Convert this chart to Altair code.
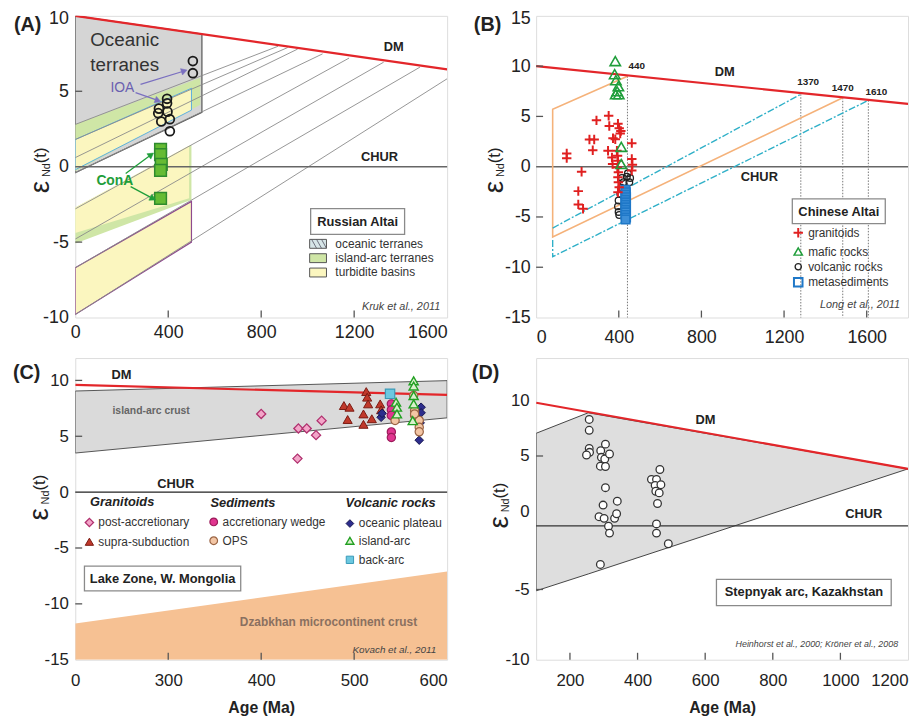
import math
import altair as alt
import pandas as pd

FONT = "Liberation Sans"
W, H = 376, 305
RED = "#e3262a"

# ---------------- Panel A : Russian Altai ----------------
A_DM_AGE = [0, 1600]
A_DM_EPS = [10.0, 6.45]
A_OCEAN_AGE = [0, 545]; A_OCEAN_TOP = [10.0, 8.8]; A_OCEAN_BOT = [-0.4, 3.6]
A_ARC1_AGE = [0, 538]; A_ARC1_TOP = [2.8, 5.9]; A_ARC1_BOT = [-0.3, 4.1]
A_TURB1_AGE = [0, 500]; A_TURB1_TOP = [1.8, 5.2]; A_TURB1_BOT = [-0.2, 3.75]
A_ARC2_AGE = [0, 500]; A_ARC2_TOP = [-2.7, 1.45]; A_ARC2_BOT = [-5.1, -2.2]
A_TURB2_AGE = [0, 490]; A_TURB2_TOP = [-2.7, 1.4]; A_TURB2_BOT = [-4.4, -2.1]
A_TURB3_AGE = [0, 500]; A_TURB3_TOP = [-6.7, -2.3]; A_TURB3_BOT = [-9.8, -5.0]
A_EVO_START = [2.8, 1.8, 0.6, -0.4, -2.8, -4.8, -6.7, -9.8]
A_EVO_END_AGE = [872, 914, 957, 1064, 1178, 1327, 1483, 1600]
A_EVO_END_EPS = [7.98, 7.9, 7.8, 7.48, 7.2, 6.93, 6.6, 5.83]
A_IOA_AGE = [506, 506, 395, 395, 360, 357, 397, 370, 407, 407]
A_IOA_EPS = [7.0, 6.2, 4.5, 4.2, 3.85, 3.55, 3.65, 3.0, 3.15, 2.35]
A_CONA_AGE = [367, 367, 370, 367, 367]
A_CONA_EPS = [1.15, 0.8, 0.15, -0.25, -2.1]
A_XTICKS = [0, 400, 800, 1200, 1600]
A_YTICKS = [-10, -5, 0, 5, 10]

# ---------------- Panel B : Chinese Altai ----------------
B_DM_AGE = [0, 1800]; B_DM_EPS = [10.0, 6.25]
B_ORANGE_AGE = [1484, 80, 80, 442]; B_ORANGE_EPS = [6.85, -7.0, 5.7, 9.0]
B_CYAN1_AGE = [80, 1281]; B_CYAN1_EPS = [-6.1, 7.2]
B_CYAN2_AGE = [80, 80, 1608]; B_CYAN2_EPS = [-7.3, -8.95, 6.6]
B_TDM_AGE = [442, 1281, 1484, 1608]; B_TDM_EPS = [9.0, 7.2, 6.85, 6.6]
B_TDM_LABEL = ["440", "1370", "1470", "1610"]
B_GRAN_AGE = [148, 148, 220, 204, 204, 227, 258, 281, 274, 292, 351, 354, 348, 372, 396, 402, 407,
              383, 463, 391, 394, 396, 393, 398, 396, 398, 402, 396, 463, 466, 463, 367, 370, 410]
B_GRAN_EPS = [1.31, 0.85, -0.5, -2.43, -3.75, -4.18, 2.7, 2.7, 1.64, 4.61, 5.07, 4.05, 1.58, 2.83, 4.28,
              3.82, 3.29, 2.73, 2.34, 1.58, 1.09, 0.59, -0.07, -0.56, -1.05, -1.55, -2.04, -2.54, 0.76,
              0.2, -0.39, 0.92, 0.26, 3.55]
B_MAFIC_AGE = [383, 380, 386, 398, 392, 385, 400, 412, 412]
B_MAFIC_EPS = [10.5, 9.2, 8.6, 8.0, 7.5, 7.2, 7.2, 1.97, 0.26]
B_VOLC_AGE = [415, 439, 455, 423, 451, 412, 407, 399, 396, 399, 402, 444]
B_VOLC_EPS = [-1.12, -0.99, -1.12, -1.55, -1.55, -2.1, -2.7, -3.36, -3.95, -4.5, -4.8, -0.66]
B_META_AGE = [432, 434, 433, 435, 432, 434, 433, 435, 432, 434, 433, 435, 433]
B_META_EPS = [-2.3, -2.55, -2.8, -3.05, -3.3, -3.55, -3.8, -4.05, -4.3, -4.55, -4.8, -5.05, -5.25]
B_XTICKS = [0, 400, 800, 1200, 1600]
B_YTICKS = [-15, -10, -5, 0, 5, 10, 15]

# ---------------- Panel C : Lake Zone, W. Mongolia ----------------
C_DM_AGE = [200, 600]; C_DM_EPS = [9.6, 8.7]
C_ARC_AGE = [200, 600]; C_ARC_TOP = [9.05, 9.98]; C_ARC_BOT = [3.5, 6.65]
C_DZ_AGE = [200, 600]; C_DZ_TOP = [-11.75, -7.1]; C_DZ_BOT = [-15, -15]
C_POST_AGE = [400, 440, 449, 459, 465, 439]
C_POST_EPS = [7.0, 5.7, 5.7, 5.1, 6.4, 3.0]
C_SUPRA_AGE = [489, 495, 493, 510, 510, 513, 514, 515, 519, 528, 529]
C_SUPRA_EPS = [7.75, 7.6, 6.5, 7.0, 6.07, 9.0, 8.5, 7.9, 6.57, 7.9, 7.37]
C_WEDGE_AGE = [540, 540, 540, 540, 540]
C_WEDGE_EPS = [7.9, 7.37, 6.87, 5.39, 4.89]
C_OPS_AGE = [544, 564, 565, 565, 570, 570, 570, 565]
C_OPS_EPS = [6.42, 8.64, 7.3, 6.87, 6.42, 5.8, 5.4, 7.0]
C_PLAT_AGE = [529, 530, 572, 572, 571, 570]
C_PLAT_EPS = [6.7, 7.05, 7.6, 7.1, 6.2, 4.65]
C_IARC_AGE = [545, 546, 546, 564, 564, 564, 564, 563]
C_IARC_EPS = [8.05, 7.6, 7.0, 9.96, 9.5, 8.64, 7.9, 6.4]
C_BACK_AGE = [538.6]
C_BACK_EPS = [8.8]
C_XTICKS = [200, 300, 400, 500, 600]
C_YTICKS = [-15, -10, -5, 0, 5, 10]

# ---------------- Panel D : Stepnyak arc, Kazakhstan ----------------
D_DM_AGE = [100, 1200]; D_DM_EPS = [9.81, 3.84]
D_CHUR = [-1.31]
D_ARC_AGE = [100, 254, 1200]; D_ARC_TOP = [7.05, 8.9, 3.84]; D_ARC_BOT = [-7.17, -5.65, 3.84]
D_AGE = [257, 257, 257, 258, 249, 291, 305, 293, 303, 290, 305, 317, 305, 298, 340, 286, 301,
         332, 338, 314, 317, 290, 441, 456, 452, 469, 454, 464, 466, 459, 456, 456, 491]
D_EPS = [8.30, 7.32, 5.68, 5.33, 5.09, 5.48, 6.07, 4.88, 4.73, 4.08, 4.05, 5.18, 2.14, 0.57, 0.92,
         -0.48, -0.63, -0.63, -0.21, -1.34, -1.96, -4.79, 2.89, 2.89, 2.35, 2.41, 1.82, 1.67, 3.78,
         0.71, -1.13, -1.96, -2.92]
D_XTICKS = [200, 400, 600, 800, 1000, 1200]
D_YTICKS = [10, 5, 0, -7.05, -13.39]
D_YLABELS = "datum.value < -10 ? '-10' : (datum.value < -5 ? '-5' : toString(datum.value))"

ONE = pd.DataFrame({"k": [0]})
PLAIN = "toString(datum.value)"


class Panel:
    def __init__(self, xdom, ydom, xaxis, yaxis):
        self.xs = alt.Scale(domain=xdom, nice=False, zero=False)
        self.ys = alt.Scale(domain=ydom, nice=False, zero=False)
        self.xaxis = xaxis
        self.yaxis = yaxis

    def X(self, f):
        return alt.X(f, type="quantitative", scale=self.xs, axis=self.xaxis)

    def Y(self, f):
        return alt.Y(f, type="quantitative", scale=self.ys, axis=self.yaxis)

    def area(self, ages, top, bot, fill, stroke=None, sw=1.0):
        d = pd.DataFrame({"age": ages, "top": top, "bot": bot})
        kw = dict(fill=fill, opacity=1, clip=True)
        if stroke:
            kw.update(stroke=stroke, strokeWidth=sw)
        return alt.Chart(d).mark_area(**kw).encode(x=self.X("age"), y=self.Y("top"), y2=alt.Y2("bot"))

    def line(self, ages, eps, color, sw=1.0, dash=None, gid=None):
        d = pd.DataFrame({"age": ages, "eps": eps, "ord": list(range(len(ages))),
                          "gid": gid if gid is not None else [0] * len(ages)})
        kw = dict(color=color, strokeWidth=sw, clip=True)
        if dash:
            kw["strokeDash"] = dash
        return alt.Chart(d).mark_line(**kw).encode(
            x=self.X("age"), y=self.Y("eps"), order="ord:Q", detail="gid:N")

    def hline(self, val, color, sw=1.0):
        d = pd.DataFrame({"v": [val]})
        return alt.Chart(d).mark_rule(color=color, strokeWidth=sw).encode(y=self.Y("v"))

    def vrules(self, ages, top, bottom, color, sw=1.0, dash=None):
        d = pd.DataFrame({"age": ages, "top": top, "bot": [bottom] * len(ages)})
        kw = dict(color=color, strokeWidth=sw)
        if dash:
            kw["strokeDash"] = dash
        return alt.Chart(d).mark_rule(**kw).encode(x=self.X("age"), y=self.Y("top"), y2=alt.Y2("bot"))

    def pts(self, ages, eps, shape, size, stroke, fill=None, sw=1.2):
        d = pd.DataFrame({"age": ages, "eps": eps})
        kw = dict(shape=shape, size=size, stroke=stroke, strokeWidth=sw, opacity=1)
        if fill:
            kw.update(filled=True, fill=fill)
        else:
            kw.update(filled=False)
        return alt.Chart(d).mark_point(**kw).encode(x=self.X("age"), y=self.Y("eps"))

    def xticks(self, vals, h=H, ln=7):
        d = pd.DataFrame({"v": vals})
        return alt.Chart(d).mark_rule(color="#555", strokeWidth=1.3).encode(
            x=self.X("v"), y=alt.value(h), y2=alt.value(h - ln))

    def yticks(self, vals, ln=7):
        d = pd.DataFrame({"v": vals})
        return alt.Chart(d).mark_rule(color="#555", strokeWidth=1.3).encode(
            y=self.Y("v"), x=alt.value(0), x2=alt.value(ln))


def txt(x, y, s, size=13, weight="normal", style="normal", color="#222", align="center",
        angle=None, baseline="middle"):
    kw = dict(text=s, fontSize=size, fontWeight=weight, fontStyle=style, color=color,
              align=align, baseline=baseline, font=FONT)
    if angle is not None:
        kw["angle"] = angle
    return alt.Chart(ONE).mark_text(**kw).encode(x=alt.value(x), y=alt.value(y))


def box(x1, y1, x2, y2, fill="white", stroke="#8a8a8a", sw=1.3):
    return alt.Chart(ONE).mark_rect(fill=fill, stroke=stroke, strokeWidth=sw).encode(
        x=alt.value(x1), x2=alt.value(x2), y=alt.value(y1), y2=alt.value(y2))


def seg(x1, y1, x2, y2, color, sw=1.2):
    return alt.Chart(ONE).mark_rule(color=color, strokeWidth=sw).encode(
        x=alt.value(x1), x2=alt.value(x2), y=alt.value(y1), y2=alt.value(y2))


def arrow(x1, y1, x2, y2, color):
    ang = math.degrees(math.atan2(x2 - x1, -(y2 - y1))) % 360
    head = alt.Chart(ONE).mark_point(shape="triangle", size=45, filled=True, fill=color,
                                     stroke=color, strokeWidth=0.5, opacity=1, angle=ang).encode(
        x=alt.value(x2), y=alt.value(y2))
    return [seg(x1, y1, x2, y2, color, 1.3), head]


def sym(x, y, shape, size, stroke, fill=None, sw=1.2):
    kw = dict(shape=shape, size=size, stroke=stroke, strokeWidth=sw, opacity=1)
    if fill:
        kw.update(filled=True, fill=fill)
    else:
        kw.update(filled=False)
    return alt.Chart(ONE).mark_point(**kw).encode(x=alt.value(x), y=alt.value(y))


def eps_title(x, y):
    return [txt(x, y, "ε", size=28, angle=270),
            txt(x + 6, y - 17, "Nd", size=11, angle=270),
            txt(x, y - 32, "(t)", size=17, angle=270)]


def xaxis(vals, size, pad, title=None, flush_last=None, expr=PLAIN):
    kw = dict(values=vals, labelFontSize=size, labelFont=FONT, labelColor="#222", ticks=False,
              domain=False, grid=False, labelPadding=pad, labelExpr=expr)
    if title:
        kw.update(title=title, titleFontSize=16, titleFont=FONT, titleFontWeight="bold",
                  titleColor="#222", titlePadding=11)
    else:
        kw["title"] = None
    if flush_last is not None:
        kw["labelAlign"] = {"condition": {"test": f"datum.value >= {flush_last}", "value": "right"},
                            "value": "center"}
    return alt.Axis(**kw)


def yaxis(vals, size, pad, expr=PLAIN, top_value=None):
    kw = dict(values=vals, labelFontSize=size, labelFont=FONT, labelColor="#222", ticks=False,
              domain=False, grid=False, labelPadding=pad, title=None, labelExpr=expr)
    if top_value is not None:
        kw["labelOffset"] = {"condition": {"test": f"datum.value >= {top_value}", "value": 3},
                             "value": 0}
    return alt.Axis(**kw)


CROSS = "M-1,0H1M0,-1V1"

# ================= Panel A =================
pa = Panel([0, 1600], [-10, 10], xaxis(A_XTICKS, 18, 6, flush_last=1600),
           yaxis(A_YTICKS, 18, 7, top_value=10))
evo_age, evo_eps, evo_id = [], [], []
for i, (s, ea, ee) in enumerate(zip(A_EVO_START, A_EVO_END_AGE, A_EVO_END_EPS)):
    evo_age += [0, ea]; evo_eps += [s, ee]; evo_id += [i, i]
YEL = "#fbf6bf"
GRN = "#cfe6a6"
layers_a = [
    pa.area(A_OCEAN_AGE, A_OCEAN_TOP, A_OCEAN_BOT, "#d5d5d5", "#555", 1.2),
    pa.area(A_ARC1_AGE, A_ARC1_TOP, A_ARC1_BOT, GRN),
    pa.area(A_TURB1_AGE, A_TURB1_TOP, A_TURB1_BOT, YEL, "#5aaee0", 1.0),
    pa.area(A_ARC2_AGE, A_ARC2_TOP, A_ARC2_BOT, GRN),
    pa.area(A_TURB2_AGE, A_TURB2_TOP, A_TURB2_BOT, YEL),
    pa.area(A_TURB3_AGE, A_TURB3_TOP, A_TURB3_BOT, YEL, "#8e4a8e", 1.2),
    pa.line(evo_age, evo_eps, "#8a8a8a", 0.9, gid=evo_id),
    pa.hline(0, "#666", 1.6),
    pa.line(A_DM_AGE, A_DM_EPS, RED, 2.2),
    pa.xticks([400, 800, 1200]),
    pa.yticks([5, -5]),
    pa.pts(A_IOA_AGE, A_IOA_EPS, "circle", 80, "#1a1a1a", None, 1.8),
    pa.pts(A_CONA_AGE, A_CONA_EPS, "square", 140, "#2e8b2e", "#66bb33", 1.5),
    txt(-62, 9, "(A)", 20, "bold", align="left"),
    txt(50, 24, "Oceanic", 19, color="#333"),
    txt(50, 50, "terranes", 19, color="#333"),
    txt(47.7, 72.7, "IOA", 14, color="#6a5fb0"),
    txt(40, 167.5, "ConA", 14, "bold", color="#1f9e3a"),
    txt(322, 31.7, "DM", 13, "bold"),
    txt(307.7, 142.7, "CHUR", 13, "bold"),
    box(238, 195, 333, 221),
    txt(285.5, 208.5, "Russian Altai", 13, "bold"),
    box(237, 226, 254, 235, "#d6e5e7", "#555", 1),
    seg(239, 226, 244, 235, "#556", 0.8), seg(244, 226, 249, 235, "#556", 0.8),
    seg(249, 226, 254, 235, "#556", 0.8),
    box(237, 240.5, 254, 249.5, GRN, "#555", 1),
    box(237, 255, 254, 264, YEL, "#555", 1),
    txt(263, 230.5, "oceanic terranes", 12, color="#333", align="left"),
    txt(263, 245, "island-arc terranes", 12, color="#333", align="left"),
    txt(263, 259.5, "turbidite basins", 12, color="#333", align="left"),
    txt(369, 294, "Kruk et al., 2011", 11, style="italic", color="#444", align="right"),
]
layers_a += arrow(66, 69.3, 109.3, 56, "#7a6fc0")
layers_a += arrow(61, 77.7, 82.7, 85.3, "#7a6fc0")
layers_a += arrow(51, 159.3, 76, 141, "#1f9e3a")
layers_a += arrow(56, 172.7, 77.7, 184.3, "#1f9e3a")
layers_a += eps_title(-35, 173)
chart_a = alt.layer(*layers_a).properties(width=W, height=H)

# ================= Panel B =================
pb = Panel([0, 1800], [-15, 15], xaxis(B_XTICKS, 18, 11), yaxis(B_YTICKS, 18, 6, top_value=15))
ORANGE = "#f5b27a"
CYAN = "#2fb0c8"
layers_b = [
    pb.hline(0, "#666", 1.6),
    pb.vrules(B_TDM_AGE, B_TDM_EPS, -15, "#777", 1.0, [1.5, 1.5]),
    pb.line(B_ORANGE_AGE, B_ORANGE_EPS, ORANGE, 1.6),
    pb.line(B_CYAN1_AGE, B_CYAN1_EPS, CYAN, 1.4, [7, 2, 2, 2]),
    pb.line(B_CYAN2_AGE, B_CYAN2_EPS, CYAN, 1.4, [7, 2, 2, 2]),
    pb.line(B_DM_AGE, B_DM_EPS, RED, 2.2),
    pb.xticks([400, 800, 1200, 1600]),
    pb.yticks([-10, -5, 5, 10]),
    pb.pts(B_VOLC_AGE, B_VOLC_EPS, "circle", 45, "#222", None, 1.3),
    pb.pts(B_META_AGE, B_META_EPS, "square", 75, "#1f78c8", "#3d8fd8", 1.6),
    pb.pts(B_GRAN_AGE, B_GRAN_EPS, CROSS, 90, "#e02020", None, 2.0),
    pb.pts(B_MAFIC_AGE, B_MAFIC_EPS, "triangle-up", 110, "#1f9e3a", None, 1.6),
    txt(-63, 9, "(B)", 20, "bold", align="left"),
    txt(101.7, 50.3, B_TDM_LABEL[0], 10, "bold"),
    txt(275, 67, B_TDM_LABEL[1], 10, "bold"),
    txt(310, 73.3, B_TDM_LABEL[2], 10, "bold"),
    txt(344, 76.7, B_TDM_LABEL[3], 10, "bold"),
    txt(190.7, 57, "DM", 13, "bold"),
    txt(225.7, 162.7, "CHUR", 13, "bold"),
    box(259, 185, 353, 210),
    txt(306, 198, "Chinese Altai", 13, "bold"),
    sym(265, 219.3, CROSS, 90, "#e02020", None, 2.0),
    sym(265, 238.3, "triangle-up", 70, "#1f9e3a", None, 1.5),
    sym(265, 253.7, "circle", 40, "#222", None, 1.3),
    sym(265, 269.3, "square", 75, "#1f78c8", None, 2.0),
    txt(275, 219.3, "granitoids", 12, color="#333", align="left"),
    txt(275, 238.3, "mafic rocks", 12, color="#333", align="left"),
    txt(275, 253.7, "volcanic rocks", 12, color="#333", align="left"),
    txt(275, 269.3, "metasediments", 12, color="#333", align="left"),
    txt(368, 292, "Long et al., 2011", 11, style="italic", color="#444", align="right"),
]
layers_b += eps_title(-42, 173)
chart_b = alt.layer(*layers_b).properties(width=W, height=H)

# ================= Panel C =================
pc = Panel([200, 600], [-15, 12],
           xaxis(C_XTICKS, 17, 13, "Age (Ma)", flush_last=600,
                 expr="datum.value == 200 ? '0' : toString(datum.value)"),
           yaxis(C_YTICKS, 17, 7))
layers_c = [
    pc.area(C_DZ_AGE, C_DZ_TOP, C_DZ_BOT, "#f6c193"),
    pc.area(C_ARC_AGE, C_ARC_TOP, C_ARC_BOT, "#dadada", "#555", 1.0),
    pc.hline(0, "#222", 1.3),
    pc.line(C_DM_AGE, C_DM_EPS, RED, 2.2),
    pc.xticks([300, 400, 500]),
    pc.yticks([-10, -5, 5, 10]),
    pc.pts(C_POST_AGE, C_POST_EPS, "diamond", 85, "#b0306e", "#f3a5c8", 1.3),
    pc.pts(C_SUPRA_AGE, C_SUPRA_EPS, "triangle-up", 85, "#7a1a12", "#c0392b", 1.0),
    pc.pts(C_PLAT_AGE, C_PLAT_EPS, "diamond", 75, "#151550", "#2d2d8c", 1.0),
    pc.pts(C_WEDGE_AGE, C_WEDGE_EPS, "circle", 70, "#9b1b5a", "#e0358f", 1.2),
    pc.pts(C_OPS_AGE, C_OPS_EPS, "circle", 70, "#9a6444", "#f3c6a5", 1.2),
    pc.pts(C_IARC_AGE, C_IARC_EPS, "triangle-up", 85, "#22a022", "#d9f0cc", 1.4),
    pc.pts(C_BACK_AGE, C_BACK_EPS, "square", 90, "#3a9ab8", "#6cc8e0", 1.2),
    txt(-63, 15, "(C)", 20, "bold", align="left"),
    txt(46.7, 17.3, "DM", 13, "bold"),
    txt(101.7, 127, "CHUR", 13, "bold"),
    txt(76.7, 54, "island-arc crust", 10.5, "bold", color="#666"),
    txt(256, 267, "Dzabkhan microcontinent crust", 12, "bold", color="#8a7060"),
    txt(365, 294.7, "Kovach et al., 2011", 10, style="italic", color="#444", align="right"),
    txt(15, 145.7, "Granitoids", 13, "bold", "italic", align="left"),
    txt(136.7, 146.3, "Sediments", 13, "bold", "italic", align="left"),
    txt(273.3, 146.3, "Volcanic rocks", 13, "bold", "italic", align="left"),
    sym(14.3, 166.3, "diamond", 70, "#b0306e", "#f3a5c8", 1.3),
    sym(14.3, 185.7, "triangle-up", 70, "#7a1a12", "#c0392b", 1.0),
    sym(140, 165.7, "circle", 60, "#9b1b5a", "#e0358f", 1.2),
    sym(140, 184.7, "circle", 60, "#9a6444", "#f3c6a5", 1.2),
    sym(277.7, 167.3, "diamond", 60, "#151550", "#2d2d8c", 1.0),
    sym(277.7, 184.7, "triangle-up", 65, "#22a022", "#d9f0cc", 1.4),
    sym(277.7, 204, "square", 55, "#3a9ab8", "#6cc8e0", 1.0),
    txt(23.3, 166.3, "post-accretionary", 12, color="#333", align="left"),
    txt(23.3, 185.7, "supra-subduction", 12, color="#333", align="left"),
    txt(149, 165.7, "accretionary wedge", 12, color="#333", align="left"),
    txt(149, 184.7, "OPS", 12, color="#333", align="left"),
    txt(286.7, 167.3, "oceanic plateau", 12, color="#333", align="left"),
    txt(286.7, 184.7, "island-arc", 12, color="#333", align="left"),
    txt(286.7, 204, "back-arc", 12, color="#333", align="left"),
    box(9.3, 210.3, 167.3, 235.3),
    txt(88.3, 223, "Lake Zone, W. Mongolia", 13, "bold"),
]
layers_c += eps_title(-36, 158)
chart_c = alt.layer(*layers_c).properties(width=W, height=H)

# ================= Panel D =================
pdn = Panel([100, 1200], [-13.39, 13.84],
            xaxis(D_XTICKS, 17, 13, "Age (Ma)", flush_last=1200),
            yaxis(D_YTICKS, 17, 7, D_YLABELS))
layers_d = [
    pdn.area(D_ARC_AGE, D_ARC_TOP, D_ARC_BOT, "#dedede", "#444", 1.0),
    pdn.hline(D_CHUR[0], "#333", 1.3),
    pdn.line(D_DM_AGE, D_DM_EPS, RED, 2.2),
    pdn.xticks([200, 400, 600, 800, 1000]),
    pdn.yticks([5, -7.05]),
    pdn.pts(D_AGE, D_EPS, "circle", 60, "#333", "white", 1.3),
    txt(-65, 15, "(D)", 20, "bold", align="left"),
    txt(171.3, 62.7, "DM", 13, "bold"),
    txt(331.3, 157.7, "CHUR", 13, "bold"),
    box(182.3, 223.7, 359, 250.3),
    txt(270.7, 237, "Stepnyak arc, Kazakhstan", 13, "bold"),
    txt(366, 288.7, "Heinhorst et al., 2000; Kröner et al., 2008", 9, style="italic",
        color="#444", align="right"),
]
layers_d += eps_title(-36, 166)
chart_d = alt.layer(*layers_d).properties(width=W, height=H)

chart = alt.concat(chart_a, chart_b, chart_c, chart_d, columns=2,
                   spacing={"row": 41, "column": 90}, bounds="flush").properties(
    padding={"left": 4, "top": -3, "right": 0, "bottom": 0}
).configure_view(stroke="#8c8c8c", strokeWidth=1.5).configure(font=FONT)

chart.save("out.html", embed_options={"renderer": "svg", "actions": False})
